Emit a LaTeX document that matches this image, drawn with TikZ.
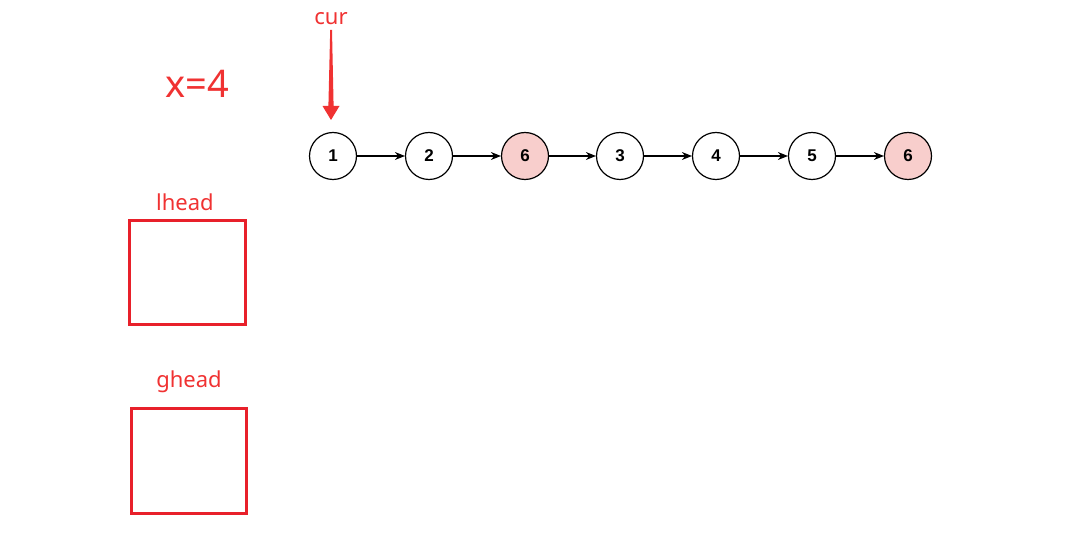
\documentclass[tikz,border=0pt]{standalone}
\usepackage{fontspec}
\setmainfont{Noto Sans}
\newfontfamily\nodefont{Liberation Sans}
\usetikzlibrary{arrows.meta}
\definecolor{lred}{HTML}{F03232}
\definecolor{boxred}{HTML}{E8202A}
\definecolor{pinkfill}{HTML}{F8CECC}
\tikzset{
  lnode/.style={circle, draw=black, line width=1.2pt, minimum size=47pt, inner sep=0pt, fill=white, font=\nodefont\fontsize{17}{17}\selectfont\bfseries},
  hl/.style={fill=pinkfill},
  link/.style={draw=black, line width=1.2pt, -{Stealth[length=10pt,width=8pt]}},
  lbl/.style={text=lred, inner sep=0pt, font=\fontsize{22}{22}\selectfont},
  headbox/.style={draw=boxred, line width=3pt}
}
\begin{document}
\begin{tikzpicture}[x=1pt,y=-1pt]
\useasboundingbox (0,0) rectangle (1080,556);
\node[lnode] (n1) at (333,156) {1};
\node[lnode] (n2) at (429,156) {2};
\node[lnode,hl] (n3) at (525,156) {6};
\node[lnode] (n4) at (620,156) {3};
\node[lnode] (n5) at (716,156) {4};
\node[lnode] (n6) at (812,156) {5};
\node[lnode,hl] (n7) at (908,156) {6};
\foreach \a/\b in {n1/n2,n2/n3,n3/n4,n4/n5,n5/n6,n6/n7}
  \draw[link] (\a) -- (\b);
\node[lbl] (cur) at (331,19) {cur};
\fill[lred] (330.2,30) -- (332,30) -- (333.6,106) -- (339.5,106) -- (331,120) -- (322.5,106) -- (328.4,106) -- cycle;
\node[lbl, font=\fontsize{38}{38}\selectfont] (x) at (197,84) {x=4};
\node[lbl] (lh) at (185,202) {lhead};
\draw[headbox] (129.5,221) rectangle (245.5,324.5);
\node[lbl] (gh) at (189,382) {ghead};
\draw[headbox] (131,408.5) rectangle (246.5,513);
\end{tikzpicture}
\end{document}
